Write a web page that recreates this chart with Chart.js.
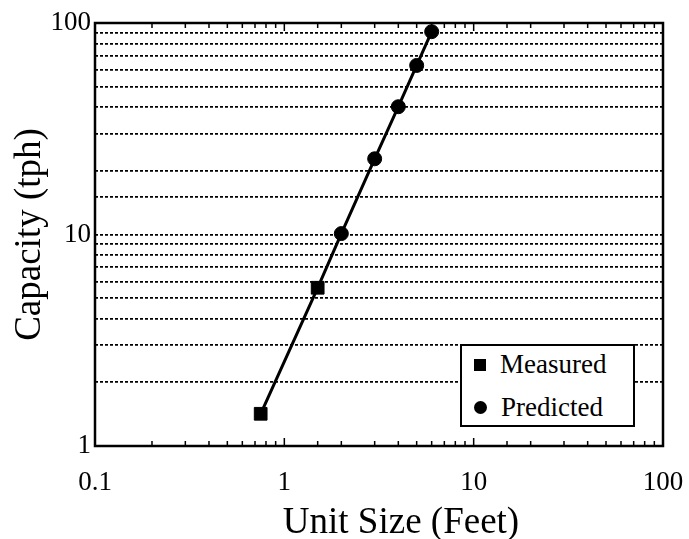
<!DOCTYPE html>
<html>
<head>
<meta charset="utf-8">
<script src="https://cdn.jsdelivr.net/npm/chart.js@4/dist/chart.umd.min.js"></script>
<style>
  body { margin: 0; background: #fff; }
  #wrap { position: relative; width: 689px; height: 539px; }
  #legend {
    position: absolute; left: 460px; top: 344px; width: 171px; height: 79px;
    border: 2px solid #000; background: #fff;
    font-family: "Liberation Serif", "DejaVu Serif", serif; font-size: 27px; color: #000;
  }
  .item { position: absolute; left: 12px; height: 30px; line-height: 30px; white-space: nowrap; }
  .item span.m { display: inline-block; width: 12px; height: 12px; background: #000; margin-right: 14px; vertical-align: middle; position: relative; top: -2px; }
  .item span.c { border-radius: 50%; width: 13px; height: 13px; }
</style>
</head>
<body>
<div id="wrap">
  <canvas id="myChart" width="689" height="539"></canvas>
  <div id="legend">
    <div class="item" style="top:3px"><span class="m"></span>Measured</div>
    <div class="item" style="top:46px"><span class="m c"></span>Predicted</div>
  </div>
</div>
<script>
var measuredX = [0.75, 1.5];
var measuredY = [1.42, 5.6];
var predictedX = [2, 3, 4, 5, 6];
var predictedY = [10.1, 22.8, 40.2, 63, 91];

var measuredPts = [];
for (var i = 0; i < measuredX.length; i++) measuredPts.push({x: measuredX[i], y: measuredY[i]});
var predictedPts = [];
for (var j = 0; j < predictedX.length; j++) predictedPts.push({x: predictedX[j], y: predictedY[j]});
var linePts = measuredPts.concat(predictedPts);

function isDecade(v) {
    var l = Math.log10(v);
    return Math.abs(l - Math.round(l)) < 1e-6;
}

var serif = "'Liberation Serif', 'DejaVu Serif', serif";

// box around the plot, little inside ticks on the x axis, and the x title
var frame = {
    id: 'frame',
    beforeDatasetsDraw: function (chart) {
        var ctx = chart.ctx, a = chart.chartArea, xs = chart.scales.x;
        ctx.save();
        ctx.strokeStyle = '#000';
        ctx.lineWidth = 1.5;
        xs.ticks.forEach(function (t) {
            var px = xs.getPixelForValue(t.value);
            var len = isDecade(t.value) ? 8 : 5;
            ctx.beginPath();
            ctx.moveTo(px, a.bottom); ctx.lineTo(px, a.bottom - len);
            ctx.moveTo(px, a.top); ctx.lineTo(px, a.top + len);
            ctx.stroke();
        });
        ctx.lineWidth = 2.5;
        ctx.strokeRect(a.left, a.top, a.right - a.left, a.bottom - a.top);
        ctx.restore();
    },
    afterDraw: function (chart) {
        var ctx = chart.ctx, a = chart.chartArea;
        ctx.save();
        ctx.fillStyle = '#000';
        ctx.font = '37px ' + serif;
        ctx.textAlign = 'center';
        ctx.textBaseline = 'alphabetic';
        ctx.fillText('Unit Size (Feet)', (a.left + a.right) / 2 + 22, a.bottom + 87);
        ctx.restore();
    }
};

new Chart("myChart", {
    type: "scatter",
    data: {
        datasets: [{
            label: "fit",
            type: "line",
            data: linePts,
            borderColor: '#000',
            borderWidth: 3,
            pointRadius: 0,
            fill: false
        }, {
            label: "Measured",
            data: measuredPts,
            pointStyle: 'rect',
            pointRadius: 9,
            backgroundColor: '#000',
            borderColor: '#000'
        }, {
            label: "Predicted",
            data: predictedPts,
            pointStyle: 'circle',
            pointRadius: 7,
            backgroundColor: '#000',
            borderColor: '#000'
        }]
    },
    options: {
        responsive: false,
        animation: false,
        layout: { padding: { top: 23, right: 26, left: 0, bottom: 0 } },
        plugins: {
            legend: { display: false },
            tooltip: { enabled: false }
        },
        scales: {
            x: {
                type: 'logarithmic',
                min: 0.1,
                max: 100,
                afterFit: function (s) { s.height = 93; s.paddingLeft = 0; s.paddingRight = 0; },
                border: { display: false },
                grid: { display: false, drawTicks: false },
                ticks: {
                    autoSkip: false,
                    maxRotation: 0,
                    padding: 21,
                    color: '#000',
                    font: { family: serif, size: 27 },
                    callback: function (v) { return isDecade(v) ? String(v) : ''; }
                }
            },
            y: {
                type: 'logarithmic',
                min: 1,
                max: 100,
                afterFit: function (s) { s.width = 95; },
                border: { display: false, dash: [3, 2] },
                grid: {
                    drawTicks: false,
                    lineWidth: 1.8,
                    color: function (c) {
                        if (!c.tick) return 'rgba(0,0,0,0)';
                        var v = c.tick.value;
                        return (v <= 1 || v >= 100) ? 'rgba(0,0,0,0)' : '#000';
                    }
                },
                ticks: {
                    autoSkip: false,
                    padding: 4,
                    color: '#000',
                    font: { family: serif, size: 27 },
                    callback: function (v) { return isDecade(v) ? String(v) : ''; }
                },
                title: {
                    display: true,
                    text: 'Capacity (tph)',
                    color: '#000',
                    font: { family: serif, size: 37, lineHeight: 1 },
                    padding: { top: 12, bottom: 0 }
                }
            }
        }
    },
    plugins: [frame]
});
</script>
</body>
</html>
